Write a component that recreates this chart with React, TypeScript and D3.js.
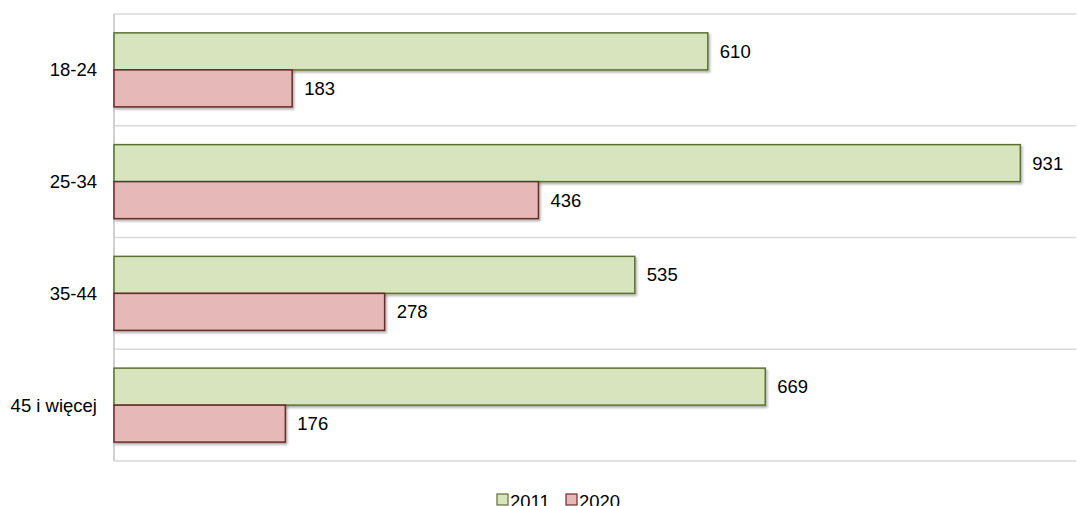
import React, { useEffect, useRef } from "react";
import * as d3 from "d3";

const categories = ["18-24", "25-34", "35-44", "45 i więcej"];
const values2011 = [610, 931, 535, 669];
const values2020 = [183, 436, 278, 176];
const seriesNames = ["2011", "2020"];

const width = 1077;
const height = 506;
const margin = { left: 114, top: 14, right: 0, bottom: 45 };
const plotBottom = height - margin.bottom;
const font = "'Liberation Sans', Arial, sans-serif";
const fontSize = 18.5;

const styles = [
  { fill: "#d7e4bd", stroke: "#5b7031" },
  { fill: "#e6b9b8", stroke: "#6b2a28" },
];

const App = () => {
  const svgRef = useRef<SVGSVGElement | null>(null);

  useEffect(() => {
    const svg = d3.select(svgRef.current);
    svg.selectAll("*").remove();

    const x = d3.scaleLinear().domain([0, 1000]).range([margin.left, margin.left + 973.5]);
    const y = d3.scaleBand().domain(categories).range([margin.top, plotBottom]);
    const inner = d3
      .scaleBand()
      .domain(seriesNames)
      .range([0, y.bandwidth()])
      .paddingOuter(0.51)
      .paddingInner(0);

    const defs = svg.append("defs");
    const filter = defs
      .append("filter")
      .attr("id", "shadow")
      .attr("x", "-5%")
      .attr("y", "-20%")
      .attr("width", "110%")
      .attr("height", "150%");
    filter
      .append("feDropShadow")
      .attr("dx", 1.5)
      .attr("dy", 2)
      .attr("stdDeviation", 1.2)
      .attr("flood-color", "#000")
      .attr("flood-opacity", 0.3);

    // gridlines at category boundaries
    const bounds = categories.map((c) => y(c)!).concat([plotBottom]);
    svg
      .append("g")
      .selectAll("line")
      .data(bounds)
      .enter()
      .append("line")
      .attr("x1", margin.left)
      .attr("x2", 1076)
      .attr("y1", (d) => d)
      .attr("y2", (d) => d)
      .attr("stroke", "#d9d9d9")
      .attr("stroke-width", 1.5);

    // left axis
    svg
      .append("line")
      .attr("x1", margin.left)
      .attr("x2", margin.left)
      .attr("y1", margin.top)
      .attr("y2", plotBottom)
      .attr("stroke", "#d0d0d0")
      .attr("stroke-width", 2);

    const data = [values2011, values2020];
    data.forEach((vals, si) => {
      const g = svg.append("g");
      const rows = categories.map((c, i) => ({ c, v: vals[i] }));
      g.selectAll("rect")
        .data(rows)
        .enter()
        .append("rect")
        .attr("x", x(0))
        .attr("y", (d) => y(d.c)! + inner(seriesNames[si])!)
        .attr("width", (d) => x(d.v) - x(0))
        .attr("height", inner.bandwidth())
        .attr("fill", styles[si].fill)
        .attr("stroke", styles[si].stroke)
        .attr("stroke-width", 1.5)
        .attr("filter", "url(#shadow)");

      g.selectAll("text")
        .data(rows)
        .enter()
        .append("text")
        .attr("x", (d) => x(d.v) + 12)
        .attr("y", (d) => y(d.c)! + inner(seriesNames[si])! + inner.bandwidth() / 2)
        .attr("dy", "0.35em")
        .attr("font-family", font)
        .attr("font-size", fontSize)
        .attr("fill", "#000")
        .text((d) => d.v);
    });

    // category labels
    svg
      .append("g")
      .selectAll("text")
      .data(categories)
      .enter()
      .append("text")
      .attr("x", margin.left - 17)
      .attr("y", (d) => y(d)! + y.bandwidth() / 2)
      .attr("dy", "0.35em")
      .attr("text-anchor", "end")
      .attr("font-family", font)
      .attr("font-size", fontSize)
      .text((d) => d);

    // legend
    const legend = svg.append("g");
    const legX = [497, 566];
    seriesNames.forEach((name, i) => {
      legend
        .append("rect")
        .attr("x", legX[i])
        .attr("y", 494)
        .attr("width", 11)
        .attr("height", 11)
        .attr("fill", styles[i].fill)
        .attr("stroke", styles[i].stroke)
        .attr("stroke-width", 1.2);
      legend
        .append("text")
        .attr("x", legX[i] + 13)
        .attr("y", 508)
        .attr("font-family", font)
        .attr("font-size", fontSize)
        .text(name);
    });
  }, []);

  return (
    <svg
      ref={svgRef}
      width={width}
      height={height}
      style={{ position: "absolute", left: 0, top: 0, background: "#fff" }}
    />
  );
};

export default App;
